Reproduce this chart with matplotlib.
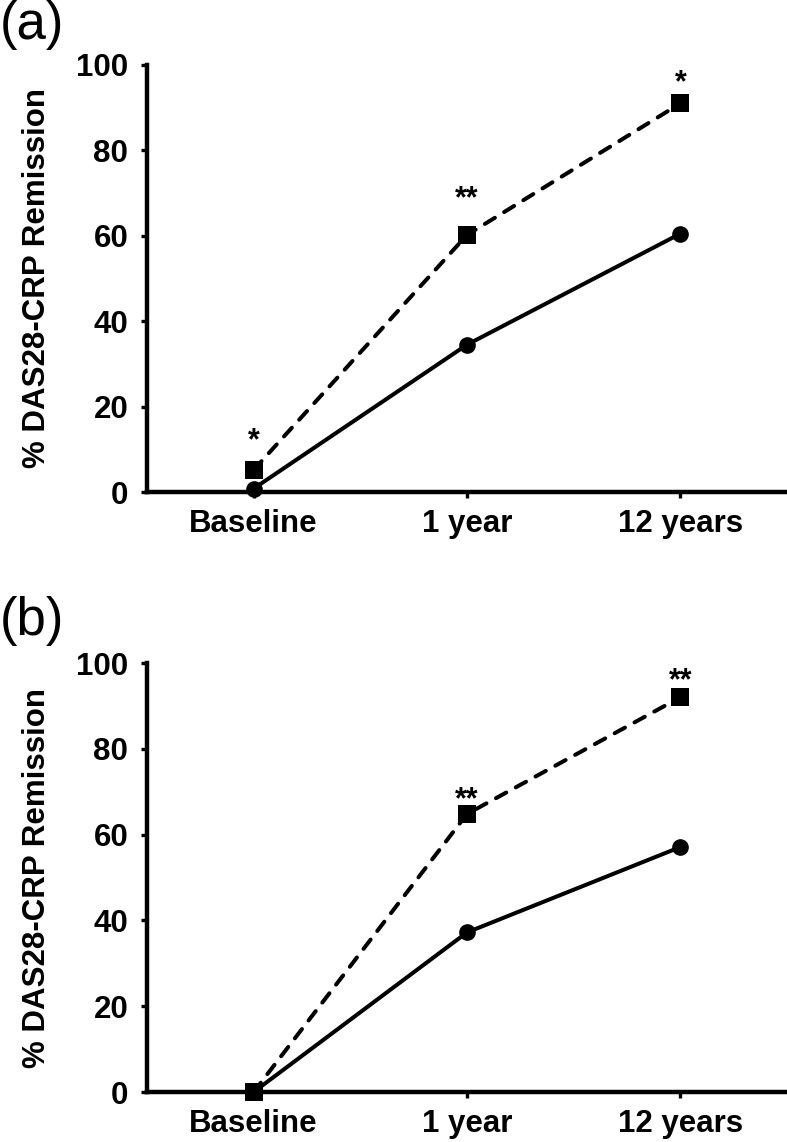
import numpy as np
import matplotlib
matplotlib.use('Agg')
import matplotlib.pyplot as plt

plt.rcParams['font.family'] = ['Liberation Sans', 'DejaVu Sans']

#%% data

timepoints = ['Baseline', '1 year', '12 years']

# panel (a)
a_square = [5.2, 60.2, 91.0]
a_circle = [0.8, 34.5, 60.5]
a_stars = ['*', '**', '*']

# panel (b)
b_square = [0.0, 64.8, 92.0]
b_circle = [0.0, 37.2, 57.1]
b_stars = ['', '**', '**']

yticks = [0, 20, 40, 60, 80, 100]
ylabel = '% DAS28-CRP Remission'

# offsets of the asterisks above the markers (points)
a_star_off = [15, 20, 8.5]
b_star_off = [0, 4.5, 6]

#%% figure

fig = plt.figure(figsize=(7.87, 11.42), dpi=100)

ax_a = fig.add_axes([147/787, 650/1142, 640/787, 427/1142])
ax_b = fig.add_axes([147/787, 50/1142, 640/787, 429/1142])

lw = 2.9


def draw_panel(ax, sq, ci, stars, offs):
    x = np.arange(len(timepoints))
    ax.plot(x, ci, color='black', lw=lw, marker='o', ms=12, mew=0,
            solid_capstyle='round', clip_on=False, zorder=3)
    ax.plot(x, sq, color='black', lw=lw, ls=(0, (2.9, 2.7)), marker='s', ms=13,
            mew=0, dash_capstyle='round', clip_on=False, zorder=4)
    for k in range(len(x)):
        if stars[k]:
            ax.annotate(stars[k], (x[k], sq[k]), xytext=(0, offs[k]),
                        textcoords='offset points', ha='center', va='baseline',
                        fontsize=22, fontweight='bold')

    ax.set_xlim(-0.5, 2.5)
    ax.set_ylim(0, 100)
    ax.set_xticks(x)
    ax.set_xticklabels(timepoints)
    ax.set_yticks(yticks)
    for s in ['top', 'right']:
        ax.spines[s].set_visible(False)
    for s in ['left', 'bottom']:
        ax.spines[s].set_linewidth(3.2)
    ax.tick_params(axis='both', direction='out', length=4.5, width=2.4,
                   labelsize=22.5)
    ax.tick_params(axis='x', pad=8)
    ax.tick_params(axis='y', pad=9)
    for lab in ax.get_xticklabels() + ax.get_yticklabels():
        lab.set_fontweight('bold')
    ax.set_ylabel(ylabel, fontsize=22.5, fontweight='bold')
    ax.yaxis.set_label_coords(-0.148, 0.5)


draw_panel(ax_a, a_square, a_circle, a_stars, a_star_off)
draw_panel(ax_b, b_square, b_circle, b_stars, b_star_off)

fig.text(0.0, 1.0, '(a)', ha='left', va='top', fontsize=38)
fig.text(0.0, 1 - 596/1142, '(b)', ha='left', va='top', fontsize=38)

fig.savefig('out.png', dpi=100)
